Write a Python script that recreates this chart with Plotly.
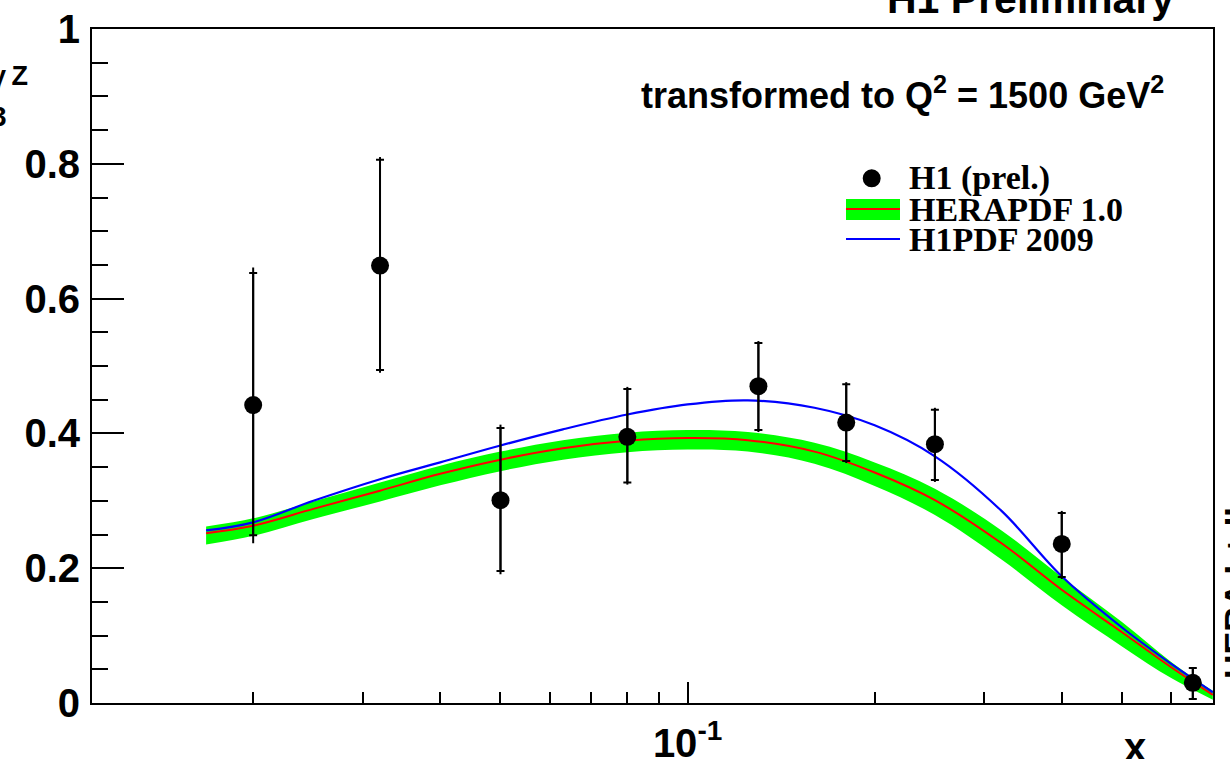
import plotly.graph_objects as go

# ---- H1 preliminary measurement of xF3^gammaZ ----
x_data = [0.02, 0.032, 0.05, 0.08, 0.13, 0.18, 0.25, 0.40, 0.65]
y_data = [0.442, 0.649, 0.301, 0.395, 0.470, 0.416, 0.384, 0.236, 0.030]
stat_up = [0.196, 0.157, 0.107, 0.071, 0.064, 0.057, 0.051, 0.046, 0.022]
stat_dn = [0.193, 0.155, 0.105, 0.068, 0.065, 0.057, 0.053, 0.049, 0.024]
tot_up = [0.204, 0.161, 0.112, 0.074, 0.067, 0.060, 0.054, 0.049, 0.022]
tot_dn = [0.205, 0.159, 0.110, 0.071, 0.068, 0.060, 0.056, 0.052, 0.024]

# ---- theory curves at Q2 = 1500 GeV2 ----
x_curve = [0.0168, 0.02, 0.025, 0.032, 0.04, 0.05, 0.063, 0.08, 0.1, 0.125,
           0.16, 0.2, 0.25, 0.32, 0.4, 0.5, 0.6, 0.7]
hera_central = [0.252, 0.263, 0.288, 0.315, 0.340, 0.361, 0.378, 0.389, 0.393, 0.390,
                0.373, 0.342, 0.301, 0.237, 0.168, 0.105, 0.053, 0.012]
hera_hi = [0.262, 0.274, 0.299, 0.327, 0.352, 0.373, 0.390, 0.401, 0.405, 0.402,
           0.386, 0.357, 0.318, 0.256, 0.187, 0.120, 0.061, 0.018]
hera_lo = [0.235, 0.248, 0.273, 0.299, 0.323, 0.344, 0.361, 0.372, 0.376, 0.373,
           0.355, 0.322, 0.279, 0.213, 0.145, 0.084, 0.037, 0.005]
h1pdf = [0.256, 0.268, 0.300, 0.332, 0.357, 0.382, 0.406, 0.428, 0.443, 0.449,
         0.438, 0.412, 0.366, 0.285, 0.188, 0.112, 0.058, 0.016]

# axis ticks
x_major = [0.1]
x_major_text = ["10<sup>-1</sup>"]
x_minor = [0.02, 0.03, 0.04, 0.05, 0.06, 0.07, 0.08, 0.09, 0.2, 0.3, 0.4, 0.5, 0.6]
y_major = [0, 0.2, 0.4, 0.6, 0.8, 1.0]
y_major_text = ["0", "0.2", "0.4", "0.6", "0.8", "1"]

W, H = 1230, 759
ML, MR, MT, MB = 92, 17, 29, 56
PW, PH = W - ML - MR, H - MT - MB


def px(xp):
    return (xp - ML) / PW


def py(yp):
    return (H - MB - yp) / PH


SANS = "Liberation Sans"
SERIF = "Liberation Serif"
GREEN = "#00ff00"
SMOOTH = 1.0

fig = go.Figure()

# HERAPDF 1.0 uncertainty band
fig.add_trace(go.Scatter(x=x_curve, y=hera_lo, mode="lines",
                         line=dict(width=0, color="rgba(0,0,0,0)", shape="spline", smoothing=SMOOTH),
                         showlegend=False, hoverinfo="skip"))
fig.add_trace(go.Scatter(x=x_curve, y=hera_hi, mode="lines", fill="tonexty", fillcolor=GREEN,
                         line=dict(width=0, color="rgba(0,0,0,0)", shape="spline", smoothing=SMOOTH),
                         showlegend=False, hoverinfo="skip"))
# HERAPDF 1.0 central value
fig.add_trace(go.Scatter(x=x_curve, y=hera_central, mode="lines",
                         line=dict(width=2, color="#ff0000", shape="spline", smoothing=SMOOTH),
                         showlegend=False))
# H1PDF 2009
fig.add_trace(go.Scatter(x=x_curve, y=h1pdf, mode="lines",
                         line=dict(width=2.2, color="#0000ff", shape="spline", smoothing=SMOOTH),
                         showlegend=False))

# total uncertainties (no end caps)
fig.add_trace(go.Scatter(x=x_data, y=y_data, mode="markers",
                         marker=dict(size=0.1, color="black"),
                         error_y=dict(type="data", array=tot_up, arrayminus=tot_dn,
                                      color="black", thickness=2, width=0),
                         showlegend=False))
# statistical uncertainties with caps, and the markers
fig.add_trace(go.Scatter(x=x_data, y=y_data, mode="markers",
                         marker=dict(size=18, color="black", symbol="circle"),
                         error_y=dict(type="data", array=stat_up, arrayminus=stat_dn,
                                      color="black", thickness=2, width=4),
                         showlegend=False))

shapes = []
# legend entries
shapes.append(dict(type="circle", xref="paper", yref="paper",
                   x0=px(871.7 - 9), x1=px(871.7 + 9), y0=py(178.3 + 9), y1=py(178.3 - 9),
                   fillcolor="black", line=dict(width=0)))
shapes.append(dict(type="rect", xref="paper", yref="paper",
                   x0=px(846), x1=px(900), y0=py(220), y1=py(199),
                   fillcolor=GREEN, line=dict(width=0)))
shapes.append(dict(type="line", xref="paper", yref="paper",
                   x0=px(846), x1=px(900), y0=py(209), y1=py(209),
                   line=dict(color="#ff0000", width=2)))
shapes.append(dict(type="line", xref="paper", yref="paper",
                   x0=px(846), x1=px(900), y0=py(239), y1=py(239),
                   line=dict(color="#0000ff", width=2)))

annotations = []
legend_rows = [("H1 (prel.)", 178), ("HERAPDF 1.0", 209), ("H1PDF 2009", 239)]
for label, yc in legend_rows:
    annotations.append(dict(text=label, xref="paper", yref="paper", x=px(908), y=py(yc),
                            xanchor="left", yanchor="middle", showarrow=False, borderpad=0,
                            font=dict(family=SERIF, size=34, color="black", weight="bold")))

annotations.append(dict(text="H1 Preliminary", xref="paper", yref="paper",
                        x=px(1030), y=py(-1), xanchor="center", yanchor="middle",
                        showarrow=False, borderpad=0,
                        font=dict(family=SANS, size=41, color="black", weight="bold")))
annotations.append(dict(text="transformed to Q<sup>2</sup> = 1500 GeV<sup>2</sup>",
                        xref="paper", yref="paper", x=px(640), y=py(93),
                        xanchor="left", yanchor="middle", showarrow=False, borderpad=0,
                        font=dict(family=SANS, size=36, color="black", weight="bold")))
annotations.append(dict(text="HERA I + II", xref="paper", yref="paper",
                        x=px(1216), y=py(593), xanchor="left", yanchor="middle",
                        textangle=-90, showarrow=False, borderpad=0,
                        font=dict(family=SANS, size=34, color="black", weight="bold")))
annotations.append(dict(text="x", xref="paper", yref="paper",
                        x=px(1135), y=py(747), xanchor="center", yanchor="middle",
                        showarrow=False, borderpad=0,
                        font=dict(family=SANS, size=40, color="black", weight="bold")))
# y-axis title pieces (xF3 with gammaZ superscript, mostly beyond the left edge)
annotations.append(dict(text="\u03b3\u2009Z", xref="paper", yref="paper",
                        x=px(29), y=py(76), xanchor="right", yanchor="middle",
                        showarrow=False, borderpad=0,
                        font=dict(family=SANS, size=27, color="black", weight="bold")))
annotations.append(dict(text="3", xref="paper", yref="paper",
                        x=px(8), y=py(117), xanchor="right", yanchor="middle",
                        showarrow=False, borderpad=0,
                        font=dict(family=SANS, size=28, color="black", weight="bold")))

fig.update_layout(
    width=W, height=H,
    margin=dict(l=ML, r=MR, t=MT, b=MB, pad=0, autoexpand=False),
    paper_bgcolor="white", plot_bgcolor="white",
    showlegend=False,
    shapes=shapes, annotations=annotations,
    xaxis=dict(type="log", range=[-1.9583, -0.1546], automargin=False,
               tickmode="array", tickvals=x_major, ticktext=x_major_text,
               ticks="inside", ticklen=21, tickwidth=2, tickcolor="black",
               minor=dict(tickmode="array", tickvals=x_minor, ticks="inside",
                          ticklen=11, tickwidth=2, tickcolor="black", showgrid=False),
               showline=True, linecolor="black", linewidth=2, mirror=True,
               showgrid=False, zeroline=False, ticklabelstandoff=4,
               tickfont=dict(family=SANS, size=40, color="black", weight="bold")),
    yaxis=dict(range=[0, 1], automargin=False,
               tickmode="array", tickvals=y_major, ticktext=y_major_text,
               ticks="inside", ticklen=32, tickwidth=2, tickcolor="black",
               minor=dict(dtick=0.05, tick0=0, ticks="inside",
                          ticklen=16, tickwidth=2, tickcolor="black", showgrid=False),
               showline=True, linecolor="black", linewidth=2, mirror=True,
               showgrid=False, zeroline=False, ticklabelstandoff=2,
               tickfont=dict(family=SANS, size=40, color="black", weight="bold")),
)

fig.write_html("out.html")
